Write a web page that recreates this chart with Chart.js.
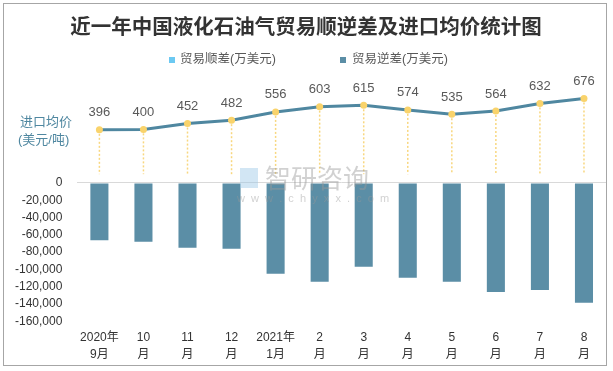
<!DOCTYPE html>
<html>
<head>
<meta charset="utf-8">
<script src="https://cdn.jsdelivr.net/npm/chart.js@4.4.1/dist/chart.umd.min.js"></script>
<style>
	html, body { margin: 0; padding: 0; background: #fff; }
	#wrap { width: 613px; height: 371px; }
</style>
</head>
<body>
<div id="wrap"><canvas id="tradeChart" width="613" height="371"></canvas></div>
<script>
// months (two-line tick labels)
const months = [
	['2020年', '9月'], ['10', '月'], ['11', '月'], ['12', '月'],
	['2021年', '1月'], ['2', '月'], ['3', '月'], ['4', '月'],
	['5', '月'], ['6', '月'], ['7', '月'], ['8', '月']
];
// 贸易顺差 (none in this period)
const surplus = [null, null, null, null, null, null, null, null, null, null, null, null];
// 贸易逆差 (万美元)
const deficit = [-66200, -68100, -75000, -76200, -105100, -114300, -97000, -109700, -114300, -125900, -123600, -138600];
// 进口均价 (美元/吨)
const price = [396, 400, 452, 482, 556, 603, 615, 574, 535, 564, 632, 676];

const FONT = "'Liberation Sans', 'Noto Sans CJK SC', sans-serif";

// background, frame, title, legend, axis caption and watermark
const decorPlugin = {
	id: 'decor',
	beforeDraw(chart) {
		const ctx = chart.ctx;
		ctx.save();
		ctx.fillStyle = '#fff';
		ctx.fillRect(0, 0, chart.width, chart.height);
		ctx.strokeStyle = '#a6a6a6';
		ctx.lineWidth = 1;
		ctx.strokeRect(3.5, 3.5, 603, 362);

		ctx.fillStyle = '#333';
		ctx.font = "bold 20.5px 'Noto Sans CJK SC', sans-serif";
		ctx.textAlign = 'center';
		ctx.textBaseline = 'middle';
		ctx.fillText('近一年中国液化石油气贸易顺逆差及进口均价统计图', 306, 26);

		// legend
		ctx.font = '12.5px ' + FONT;
		ctx.textAlign = 'left';
		ctx.fillStyle = '#6cc9f2';
		ctx.fillRect(169, 57, 6, 6);
		ctx.fillStyle = '#5b8ea6';
		ctx.fillRect(340, 57, 6, 6);
		ctx.fillStyle = '#595959';
		ctx.fillText('贸易顺差(万美元)', 180, 60);
		ctx.fillText('贸易逆差(万美元)', 352, 60);

		// caption of the price line
		ctx.fillStyle = '#4f87a0';
		ctx.font = '13px ' + FONT;
		ctx.fillText('进口均价', 20, 122);
		ctx.fillText('(美元/吨)', 18, 140);
		ctx.restore();
	},
	afterDatasetsDraw(chart) {
		const ctx = chart.ctx;
		ctx.save();
		ctx.globalAlpha = 0.45;
		ctx.fillStyle = '#9a9a9a';
		ctx.font = "26px 'Noto Sans CJK SC', sans-serif";
		ctx.textAlign = 'left';
		ctx.textBaseline = 'middle';
		ctx.fillText('智研咨询', 265, 178);
		ctx.font = '11px ' + FONT;
		ctx.fillText('w  w  w  .  c  h  y  x  x  .  c  o  m', 237, 199);
		ctx.fillStyle = '#9cc7e6';
		ctx.fillRect(240, 168, 18, 20);
		ctx.restore();
	}
};

// dotted drop lines and value labels for the price line
const priceMarks = {
	id: 'priceMarks',
	beforeDatasetsDraw(chart) {
		const ctx = chart.ctx;
		const y1 = chart.scales.y1;
		const meta = chart.getDatasetMeta(2);
		ctx.save();
		ctx.strokeStyle = '#f8d77f';
		ctx.lineWidth = 1.5;
		ctx.setLineDash([2, 2]);
		meta.data.forEach(pt => {
			ctx.beginPath();
			ctx.moveTo(pt.x, pt.y);
			ctx.lineTo(pt.x, y1.getPixelForValue(0));
			ctx.stroke();
		});
		ctx.restore();
	},
	afterDatasetsDraw(chart) {
		const ctx = chart.ctx;
		const meta = chart.getDatasetMeta(2);
		ctx.save();
		ctx.fillStyle = '#595959';
		ctx.font = '13px ' + FONT;
		ctx.textAlign = 'center';
		ctx.textBaseline = 'middle';
		meta.data.forEach((pt, i) => {
			ctx.fillText(price[i], pt.x, pt.y - 17);
		});
		ctx.restore();
	}
};

const ctx = document.getElementById('tradeChart').getContext('2d');
const myChart = new Chart(ctx, {
	type: 'bar',
	data: {
		labels: months,
		datasets: [
			{
				label: '贸易顺差(万美元)',
				data: surplus,
				backgroundColor: '#6cc9f2',
				grouped: false,
				barPercentage: 0.41,
				categoryPercentage: 1,
				yAxisID: 'y'
			},
			{
				label: '贸易逆差(万美元)',
				data: deficit,
				backgroundColor: '#5b8ea6',
				grouped: false,
				barPercentage: 0.41,
				categoryPercentage: 1,
				yAxisID: 'y'
			},
			{
				type: 'line',
				label: '进口均价',
				data: price,
				borderColor: '#4f87a0',
				borderWidth: 3,
				pointRadius: 3.5,
				pointBackgroundColor: '#f9d36b',
				pointBorderWidth: 0,
				tension: 0,
				yAxisID: 'y1'
			}
		]
	},
	options: {
		responsive: false,
		animation: false,
		layout: {
			padding: { top: 79, left: 0, right: 7, bottom: 0 }
		},
		plugins: {
			legend: { display: false },
			title: { display: false },
			tooltip: { enabled: false }
		},
		scales: {
			x: {
				grid: { display: false, drawTicks: false },
				border: { display: false },
				ticks: {
					autoSkip: false,
					maxRotation: 0,
					padding: 8,
					color: '#333',
					font: { family: FONT, size: 12, lineHeight: 1.4 }
				}
			},
			y: {
				min: -160000,
				max: 120000,
				afterBuildTicks(scale) {
					scale.ticks = scale.ticks.filter(t => t.value <= 0);
				},
				ticks: {
					stepSize: 20000,
					padding: 15,
					color: '#333',
					font: { family: FONT, size: 12 },
					callback: v => v.toLocaleString('en-US')
				},
				grid: {
					drawTicks: false,
					color: c => (c.tick && c.tick.value === 0) ? '#d9d9d9' : 'rgba(0,0,0,0)'
				},
				border: { display: false }
			},
			y1: {
				display: false,
				min: -1315,
				max: 850
			}
		}
	},
	plugins: [decorPlugin, priceMarks]
});
</script>
</body>
</html>
